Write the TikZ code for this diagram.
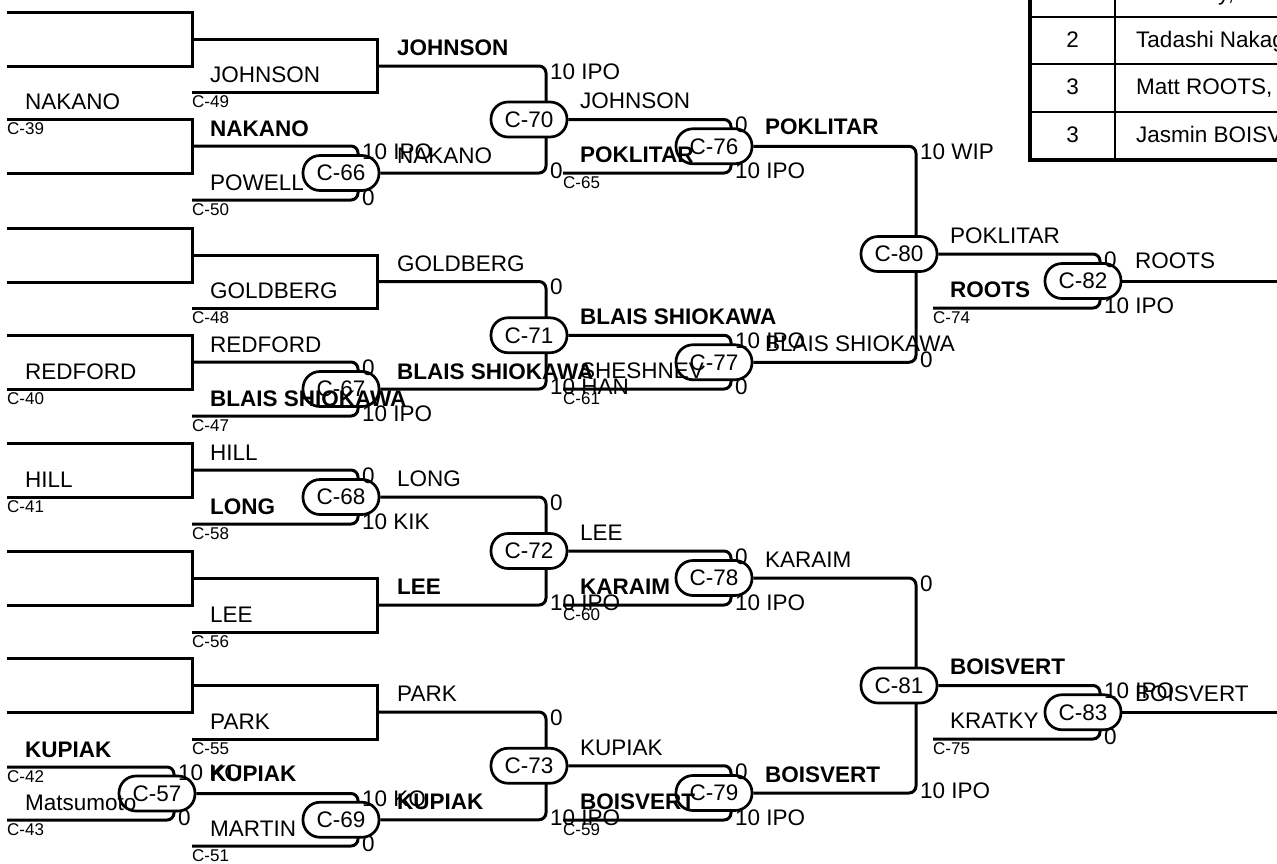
\documentclass[tikz,border=0pt]{standalone}
\usepackage{fontspec}
\setmainfont{Liberation Sans}
\usetikzlibrary{backgrounds}
\begin{document}
\begin{tikzpicture}[x=1pt,y=-1pt,
  bline/.style={line width=3pt},
  bracket/.style={line width=3pt, rounded corners=7pt},
  matchbox/.style={draw, line width=2.7pt, fill=white, rounded corners=17pt, minimum width=76pt, minimum height=35pt, inner sep=0pt, font=\fontsize{22.5}{26}\selectfont},
  namelbl/.style={anchor=base west, inner sep=0pt, font=\fontsize{22.5}{26}\selectfont},
  boldlbl/.style={anchor=base west, inner sep=0pt, font=\fontsize{22.5}{26}\selectfont\bfseries},
  codelbl/.style={anchor=base west, inner sep=0pt, font=\fontsize{17}{20}\selectfont},
  scorelbl/.style={anchor=base west, inner sep=0pt, font=\fontsize{22.5}{26}\selectfont},
  ranklbl/.style={anchor=base, inner sep=0pt, font=\fontsize{22.5}{26}\selectfont},
  tthick/.style={line width=4.5pt},
  tthin/.style={line width=2pt},
]
\useasboundingbox (0,0) rectangle (1277,863);

% ---------- match nodes ----------
\node[matchbox] (c57) at (157,793.5) {C-57};
\node[matchbox] (c66) at (341,173) {C-66};
\node[matchbox] (c67) at (341,389) {C-67};
\node[matchbox] (c68) at (341,497) {C-68};
\node[matchbox] (c69) at (341,819.75) {C-69};
\node[matchbox] (c70) at (529,119.5) {C-70};
\node[matchbox] (c71) at (529,335.25) {C-71};
\node[matchbox] (c72) at (529,551) {C-72};
\node[matchbox] (c73) at (529,765.75) {C-73};
\node[matchbox] (c76) at (714,146.25) {C-76};
\node[matchbox] (c77) at (714,362.25) {C-77};
\node[matchbox] (c78) at (714,578) {C-78};
\node[matchbox] (c79) at (714,793) {C-79};
\node[matchbox] (c80) at (899,254) {C-80};
\node[matchbox] (c81) at (899,685.5) {C-81};
\node[matchbox] (c82) at (1083,281) {C-82};
\node[matchbox] (c83) at (1083,712.25) {C-83};

% ---------- coordinates ----------
\coordinate (r1a) at (7,12);  \coordinate (r1b) at (7,66);  \coordinate (m1) at (192,39);
\coordinate (r2a) at (7,119); \coordinate (r2b) at (7,173); \coordinate (m2) at (192,146);
\coordinate (r3a) at (7,228); \coordinate (r3b) at (7,282); \coordinate (m3) at (192,255);
\coordinate (r4a) at (7,335); \coordinate (r4b) at (7,389); \coordinate (m4) at (192,362);
\coordinate (r5a) at (7,443); \coordinate (r5b) at (7,497); \coordinate (m5) at (192,470);
\coordinate (r6a) at (7,551); \coordinate (r6b) at (7,605); \coordinate (m6) at (192,578);
\coordinate (r7a) at (7,658); \coordinate (r7b) at (7,712); \coordinate (m7) at (192,685);
\coordinate (r8a) at (7,767); \coordinate (r8b) at (7,820);
\coordinate (s1) at (192,92);  \coordinate (s2) at (192,200); \coordinate (s3) at (192,308);
\coordinate (s4) at (192,416); \coordinate (s5) at (192,524); \coordinate (s6) at (192,632);
\coordinate (s7) at (192,739); \coordinate (s8) at (192,846);
\coordinate (o1) at (377,66); \coordinate (o3) at (377,281.5);
\coordinate (o6) at (377,605); \coordinate (o7) at (377,712);
\coordinate (t76) at (563,173); \coordinate (t77) at (563,389);
\coordinate (t78) at (563,605); \coordinate (t79) at (563,820);
\coordinate (t82) at (933,308); \coordinate (t83) at (933,739);
\coordinate (e82) at (1277,281); \coordinate (e83) at (1277,712.25);
\coordinate (tA) at (1030,-60); \coordinate (tB) at (1030,160); \coordinate (tC) at (1320,160);
\coordinate (tD) at (1115,-60); \coordinate (tE) at (1115,160);
\coordinate (h1a) at (1030,17);  \coordinate (h1b) at (1320,17);
\coordinate (h2a) at (1030,64);  \coordinate (h2b) at (1320,64);
\coordinate (h3a) at (1030,112); \coordinate (h3b) at (1320,112);

% ---------- lines (behind nodes) ----------
\begin{scope}[on background layer]
\draw[bline] (r1a) -| (m1) |- (r1b);
\draw[bline] (r2a) -| (m2) |- (r2b);
\draw[bline] (r3a) -| (m3) |- (r3b);
\draw[bline] (r4a) -| (m4) |- (r4b);
\draw[bline] (r5a) -| (m5) |- (r5b);
\draw[bline] (r6a) -| (m6) |- (r6b);
\draw[bline] (r7a) -| (m7) |- (r7b);
\draw[bline] (m1) -| (o1) |- (s1);
\draw[bline] (m3) -| (o3) |- (s3);
\draw[bline] (m6) -| (o6) |- (s6);
\draw[bline] (m7) -| (o7) |- (s7);
\draw[bracket] (r8a) -- (174,767) -- (174,820) -- (r8b);
\draw[bracket] (m2) -- (358,146) -- (358,200) -- (s2);
\draw[bracket] (m4) -- (358,362) -- (358,416) -- (s4);
\draw[bracket] (m5) -- (358,470) -- (358,524) -- (s5);
\draw[bracket] (c57.east) -- (358,793.5) -- (358,846) -- (s8);
\draw[bracket] (o1) -- (546,66) -- (546,173) -- (c66.east);
\draw[bracket] (o3) -- (546,281.5) -- (546,389) -- (c67.east);
\draw[bracket] (c68.east) -- (546,497) -- (546,605) -- (o6);
\draw[bracket] (o7) -- (546,712) -- (546,819.75) -- (c69.east);
\draw[bracket] (c70.east) -- (731,119.5) -- (731,173) -- (t76);
\draw[bracket] (c71.east) -- (731,335.25) -- (731,389) -- (t77);
\draw[bracket] (c72.east) -- (731,551) -- (731,605) -- (t78);
\draw[bracket] (c73.east) -- (731,765.75) -- (731,820) -- (t79);
\draw[bracket] (c76.east) -- (916,146.25) -- (916,362.25) -- (c77.east);
\draw[bracket] (c78.east) -- (916,578) -- (916,793) -- (c79.east);
\draw[bracket] (c80.east) -- (1100,254) -- (1100,308) -- (t82);
\draw[bracket] (c81.east) -- (1100,685.5) -- (1100,739) -- (t83);
\draw[bline] (c82.east) -- (e82);
\draw[bline] (c83.east) -- (e83);
% table
\draw[tthin] (tD) -- (tE);
\draw[tthin] (h1a) -- (h1b);
\draw[tthin] (h2a) -- (h2b);
\draw[tthin] (h3a) -- (h3b);
\draw[tthick] (tA) -- (tB) -- (tC);
\end{scope}

% ---------- table texts ----------
\node[ranklbl] (k1) at (1072.5,0) {1};
\node[namelbl] (k1n) at (1218,0) {y,};
\node[ranklbl] (k2) at (1072.5,47) {2};
\node[namelbl] (k2n) at (1136,47) {Tadashi Nakag};
\node[ranklbl] (k3) at (1072.5,94) {3};
\node[namelbl] (k3n) at (1136,94) {Matt ROOTS,};
\node[ranklbl] (k4) at (1072.5,142) {3};
\node[namelbl] (k4n) at (1136,142) {Jasmin BOISV};

% ---------- round 1 labels ----------
\node[namelbl] (a1) at (25,109) {NAKANO};
\node[codelbl] (a2) at (7,134) {C-39};
\node[namelbl] (a3) at (25,379) {REDFORD};
\node[codelbl] (a4) at (7,404) {C-40};
\node[namelbl] (a5) at (25,487) {HILL};
\node[codelbl] (a6) at (7,512) {C-41};
\node[boldlbl] (a7) at (25,757) {KUPIAK};
\node[codelbl] (a8) at (7,782) {C-42};
\node[namelbl] (a9) at (25,810) {Matsumoto};
\node[codelbl] (a10) at (7,835) {C-43};

% ---------- round 2 input labels ----------
\node[namelbl] (b1) at (210,82) {JOHNSON};
\node[codelbl] (b2) at (192,107) {C-49};
\node[boldlbl] (b3) at (210,136) {NAKANO};
\node[namelbl] (b4) at (210,190) {POWELL};
\node[codelbl] (b5) at (192,215) {C-50};
\node[namelbl] (b6) at (210,298) {GOLDBERG};
\node[codelbl] (b7) at (192,323) {C-48};
\node[namelbl] (b8) at (210,352) {REDFORD};
\node[boldlbl] (b9) at (210,406) {BLAIS SHIOKAWA};
\node[codelbl] (b10) at (192,431) {C-47};
\node[namelbl] (b11) at (210,460) {HILL};
\node[boldlbl] (b12) at (210,514) {LONG};
\node[codelbl] (b13) at (192,539) {C-58};
\node[namelbl] (b14) at (210,622) {LEE};
\node[codelbl] (b15) at (192,647) {C-56};
\node[namelbl] (b16) at (210,729) {PARK};
\node[codelbl] (b17) at (192,754) {C-55};
\node[boldlbl] (b18) at (210,781) {KUPIAK};
\node[namelbl] (b19) at (210,836) {MARTIN};
\node[codelbl] (b20) at (192,861) {C-51};

% ---------- round 2 output labels ----------
\node[boldlbl] (d1) at (397,55) {JOHNSON};
\node[namelbl] (d2) at (397,163) {NAKANO};
\node[namelbl] (d3) at (397,271) {GOLDBERG};
\node[boldlbl] (d4) at (397,379) {BLAIS SHIOKAWA};
\node[namelbl] (d5) at (397,486) {LONG};
\node[boldlbl] (d6) at (397,594) {LEE};
\node[namelbl] (d7) at (397,701) {PARK};
\node[boldlbl] (d8) at (397,809) {KUPIAK};

% ---------- round 3 input labels ----------
\node[namelbl] (f1) at (580,108) {JOHNSON};
\node[boldlbl] (f2) at (580,162) {POKLITAR};
\node[codelbl] (f3) at (563,188) {C-65};
\node[boldlbl] (f4) at (580,324) {BLAIS SHIOKAWA};
\node[namelbl] (f5) at (580,378) {SHESHNEV};
\node[codelbl] (f6) at (563,404) {C-61};
\node[namelbl] (f7) at (580,540) {LEE};
\node[boldlbl] (f8) at (580,594) {KARAIM};
\node[codelbl] (f9) at (563,620) {C-60};
\node[namelbl] (f10) at (580,755) {KUPIAK};
\node[boldlbl] (f11) at (580,809) {BOISVERT};
\node[codelbl] (f12) at (563,835) {C-59};

% ---------- round 3 output labels ----------
\node[boldlbl] (g1) at (765,134) {POKLITAR};
\node[namelbl] (g2) at (765,351) {BLAIS SHIOKAWA};
\node[namelbl] (g3) at (765,567) {KARAIM};
\node[boldlbl] (g4) at (765,782) {BOISVERT};

% ---------- round 4 labels ----------
\node[namelbl] (h1) at (950,243) {POKLITAR};
\node[boldlbl] (h2) at (950,297) {ROOTS};
\node[codelbl] (h3) at (933,323) {C-74};
\node[boldlbl] (h4) at (950,674) {BOISVERT};
\node[namelbl] (h5) at (950,728) {KRATKY};
\node[codelbl] (h6) at (933,754) {C-75};
\node[namelbl] (h7) at (1135,268) {ROOTS};
\node[namelbl] (h8) at (1135,701) {BOISVERT};

% ---------- scores ----------
\node[scorelbl] (q1) at (178,780) {10 KO};
\node[scorelbl] (q2) at (178,825) {0};
\node[scorelbl] (q3) at (362,159) {10 IPO};
\node[scorelbl] (q4) at (362,205) {0};
\node[scorelbl] (q5) at (362,375) {0};
\node[scorelbl] (q6) at (362,421) {10 IPO};
\node[scorelbl] (q7) at (362,483) {0};
\node[scorelbl] (q8) at (362,529) {10 KIK};
\node[scorelbl] (q9) at (362,806.5) {10 KO};
\node[scorelbl] (q10) at (362,851) {0};
\node[scorelbl] (q11) at (550,79) {10 IPO};
\node[scorelbl] (q12) at (550,178) {0};
\node[scorelbl] (q13) at (550,294.5) {0};
\node[scorelbl] (q14) at (550,394) {10 HAN};
\node[scorelbl] (q15) at (550,510) {0};
\node[scorelbl] (q16) at (550,610) {10 IPO};
\node[scorelbl] (q17) at (550,725) {0};
\node[scorelbl] (q18) at (550,825) {10 IPO};
\node[scorelbl] (q19) at (735,132.5) {0};
\node[scorelbl] (q20) at (735,178) {10 IPO};
\node[scorelbl] (q21) at (735,348.5) {10 IPO};
\node[scorelbl] (q22) at (735,394) {0};
\node[scorelbl] (q23) at (735,564) {0};
\node[scorelbl] (q24) at (735,610) {10 IPO};
\node[scorelbl] (q25) at (735,779) {0};
\node[scorelbl] (q26) at (735,825) {10 IPO};
\node[scorelbl] (q27) at (920,159) {10 WIP};
\node[scorelbl] (q28) at (920,367) {0};
\node[scorelbl] (q29) at (920,591) {0};
\node[scorelbl] (q30) at (920,798) {10 IPO};
\node[scorelbl] (q31) at (1104,267) {0};
\node[scorelbl] (q32) at (1104,313) {10 IPO};
\node[scorelbl] (q33) at (1104,698.5) {10 IPO};
\node[scorelbl] (q34) at (1104,744) {0};
\end{tikzpicture}
\end{document}
